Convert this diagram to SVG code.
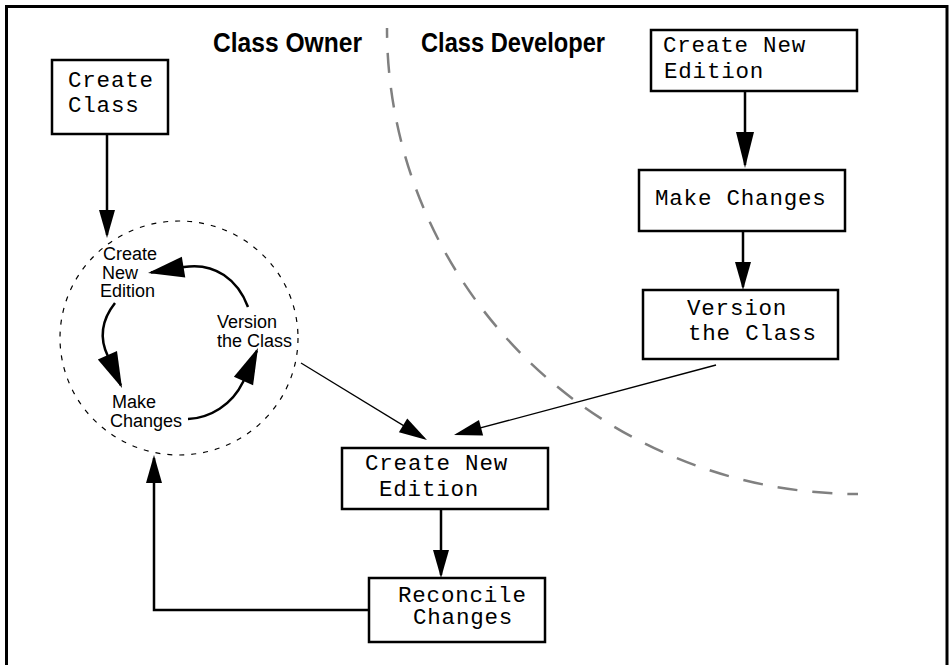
<svg xmlns="http://www.w3.org/2000/svg" width="949" height="665" viewBox="0 0 949 665">
  <style>
    .box { fill: #ffffff; stroke: #000000; stroke-width: 2.5; }
    .mono { font-family: "Liberation Mono", "Courier New", monospace; font-size: 22.5px; letter-spacing: 0.8px; fill: #000000; }
    .sans { font-family: "Liberation Sans", Arial, Helvetica, sans-serif; font-size: 18px; fill: #000000; }
    .head { font-family: "Liberation Sans", Arial, Helvetica, sans-serif; font-size: 27px; font-weight: bold; fill: #000000; }
    .conn { fill: none; stroke: #000000; stroke-width: 2.5; }
    .thin { fill: none; stroke: #000000; stroke-width: 1.3; }
    .loop { fill: none; stroke: #000000; stroke-width: 2.5; }
    .divider { fill: none; stroke: #808080; stroke-width: 2.5; stroke-dasharray: 20 15; stroke-dashoffset: 10; }
    .cycle { fill: none; stroke: #000000; stroke-width: 1.2; stroke-dasharray: 5 7; }
  </style>
  <defs>
    <marker id="arrow" markerUnits="userSpaceOnUse" markerWidth="28" markerHeight="16" refX="25" refY="8" orient="auto" overflow="visible">
      <path d="M0,0 L28,8 L0,16 Z" fill="#000000"/>
    </marker>
    <marker id="arrowLong" markerUnits="userSpaceOnUse" markerWidth="36" markerHeight="18" refX="33" refY="9" orient="auto" overflow="visible">
      <path d="M0,0 L36,9 L0,18 Z" fill="#000000"/>
    </marker>
    <marker id="arrowLoop" markerUnits="userSpaceOnUse" markerWidth="36" markerHeight="21" refX="33" refY="10.5" orient="auto" overflow="visible">
      <path d="M0,0 L36,10.5 L0,21 Z" fill="#000000"/>
    </marker>
  </defs>

  <!-- frame -->
  <rect x="6.5" y="6.5" width="940.5" height="690" fill="none" stroke="#000000" stroke-width="3"/>

  <!-- lane headers and divider -->
  <g id="lanes">
    <text class="head" x="213" y="52" textLength="149" lengthAdjust="spacingAndGlyphs">Class Owner</text>
    <text class="head" x="421" y="52" textLength="184" lengthAdjust="spacingAndGlyphs">Class Developer</text>
    <path class="divider" d="M387,28 A471,466 0 0 0 858,494"/>
  </g>

  <!-- connectors -->
  <g id="connectors">
    <line class="conn" x1="107" y1="134" x2="107" y2="235" marker-end="url(#arrow)"/>
    <line class="conn" x1="745" y1="91" x2="745" y2="165" marker-end="url(#arrowLong)"/>
    <line class="conn" x1="743" y1="231" x2="743" y2="287" marker-end="url(#arrow)"/>
    <line class="thin" x1="301" y1="363" x2="424.4" y2="438.4" marker-end="url(#arrow)"/>
    <line class="thin" x1="716" y1="365" x2="456.9" y2="434.2" marker-end="url(#arrow)"/>
    <line class="conn" x1="441" y1="509" x2="441" y2="575" marker-end="url(#arrow)"/>
    <polyline class="conn" points="369,610 154,610 154,458" marker-end="url(#arrow)"/>
  </g>

  <!-- owner's edit cycle -->
  <g id="owner-cycle">
    <ellipse class="cycle" cx="179" cy="338" rx="119" ry="117"/>
    <text class="sans" x="103" y="260">Create</text>
    <text class="sans" x="102" y="279">New</text>
    <text class="sans" x="100" y="297">Edition</text>
    <text class="sans" x="217" y="328">Version</text>
    <text class="sans" x="217" y="347">the Class</text>
    <text class="sans" x="112" y="408">Make</text>
    <text class="sans" x="110" y="427">Changes</text>
    <path class="loop" d="M248,307 C238,280 215,262 184,267 L151,272.5" marker-end="url(#arrowLoop)"/>
    <path class="loop" d="M115,303 C100,322 100,340 108,356.5 L120.8,385.3" marker-end="url(#arrowLoop)"/>
    <path class="loop" d="M188,419 C210,418 232,405 243,382 L256.8,350.7" marker-end="url(#arrowLoop)"/>
  </g>

  <!-- nodes -->
  <g id="create-class">
    <rect class="box" x="52" y="60" width="116" height="74"/>
    <text class="mono" x="68" y="87">Create</text>
    <text class="mono" x="68" y="112">Class</text>
  </g>

  <g id="dev-create-edition">
    <rect class="box" x="651" y="30" width="206" height="61"/>
    <text class="mono" x="663" y="52">Create New</text>
    <text class="mono" x="664" y="78">Edition</text>
  </g>

  <g id="dev-make-changes">
    <rect class="box" x="639" y="170" width="206" height="61"/>
    <text class="mono" x="655" y="205">Make Changes</text>
  </g>

  <g id="dev-version-class">
    <rect class="box" x="643" y="290" width="195" height="69"/>
    <text class="mono" x="687" y="315">Version</text>
    <text class="mono" x="688" y="340">the Class</text>
  </g>

  <g id="create-edition">
    <rect class="box" x="342" y="448" width="206" height="61"/>
    <text class="mono" x="365" y="470">Create New</text>
    <text class="mono" x="379" y="496">Edition</text>
  </g>

  <g id="reconcile-changes">
    <rect class="box" x="369" y="578" width="176" height="64"/>
    <text class="mono" x="398" y="602">Reconcile</text>
    <text class="mono" x="413" y="624">Changes</text>
  </g>
</svg>
